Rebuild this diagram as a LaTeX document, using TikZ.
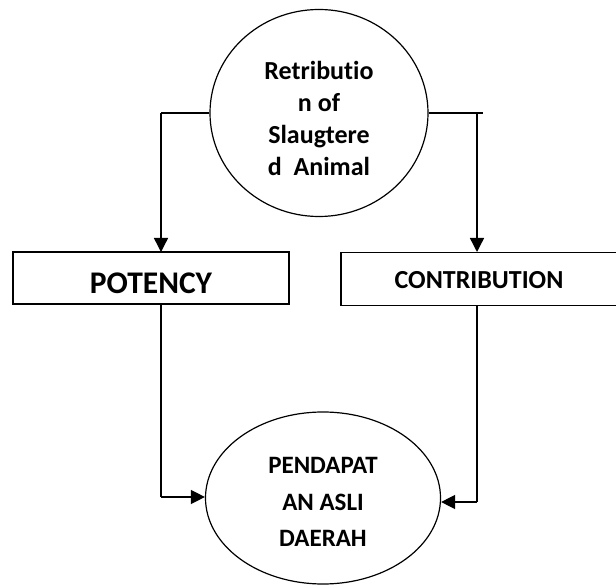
\documentclass[tikz,border=0pt]{standalone}
\usepackage{fontspec}
\setmainfont[Ligatures={NoCommon}]{Carlito}
\usetikzlibrary{arrows.meta,shapes.geometric}
\begin{document}
\begin{tikzpicture}[x=1pt,y=-1pt,
  line/.style={line width=1.4pt},
  arr/.style={line width=1.4pt,-{Triangle[width=14pt,length=14pt]}},
  oval/.style={draw,line width=1.2pt,ellipse,inner sep=0pt},
  boxnode/.style={draw,line width=1.4pt,rectangle,inner sep=0pt},
  lbl/.style={font=\bfseries,align=center,inner sep=0pt}]
\useasboundingbox (0,0) rectangle (616,585);
\clip (0,0) rectangle (616,585);
% nodes
\node[oval,minimum width=218pt,minimum height=207pt] (top) at (319,113) {};
\node[lbl,font=\bfseries\fontsize{26}{32}\selectfont] (toptext) at (319,118) {Retributio\\n of\\Slaugtere\\d\ \ Animal};
\node[boxnode,minimum width=276pt,minimum height=52pt] (potency) at (151,278) {};
\node[lbl,font=\bfseries\fontsize{31.5}{34}\selectfont] (potencytext) at (151,283) {POTENCY};
\node[boxnode,minimum width=276pt,minimum height=53pt] (contrib) at (479,279) {};
\node[lbl,font=\bfseries\fontsize{26}{30}\selectfont] (contribtext) at (479,280) {CONTRIBUTION};
\node[oval,minimum width=235pt,minimum height=172pt] (bottom) at (323,498) {};
\node[lbl,font=\bfseries\fontsize{25}{36.5}\selectfont] (bottomtext) at (323,502) {PENDAPAT\\AN ASLI\\DAERAH};
% coordinates
\coordinate (lt) at (161,113);
\coordinate (pin) at (161,252);
\coordinate (rt) at (483,113);
\coordinate (rj) at (477,113);
\coordinate (cin) at (477,252);
\coordinate (pout) at (161,304);
\coordinate (lb) at (161,497);
\coordinate (cout) at (477,306);
\coordinate (rb) at (477,502);
% connectors
\draw[line] (top.west) -- (lt);
\draw[arr] (lt) -- (pin);
\draw[line] (top.east) -- (rt);
\draw[arr] (rj) -- (cin);
\draw[line] (pout) -- (lb);
\draw[arr] (lb) -- (bottom.west |- lb);
\draw[line] (cout) -- (rb);
\draw[arr] (rb) -- (bottom.east |- rb);
\end{tikzpicture}
\end{document}
